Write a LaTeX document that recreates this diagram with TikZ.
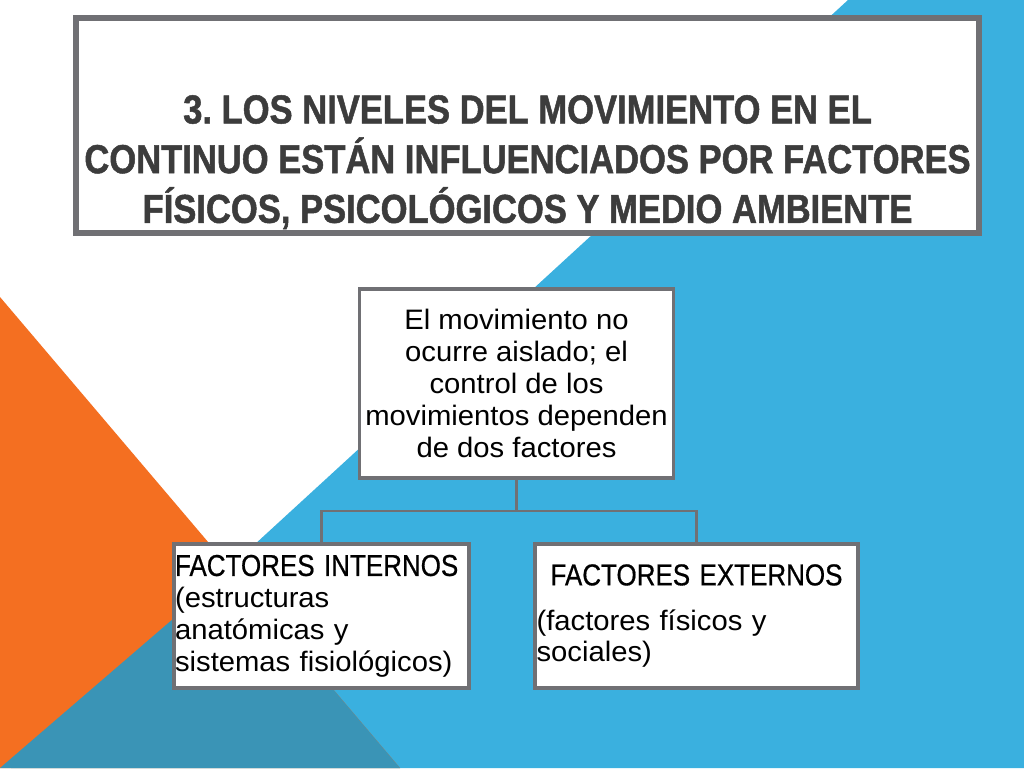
\documentclass[tikz,border=0pt]{standalone}
\usepackage{fontspec}
\setmainfont{Liberation Sans}[FakeStretch=1.04]
\newfontfamily\titlefont{Liberation Sans}[FakeStretch=0.855, FakeBold=1.2]
\newfontfamily\headfont{Liberation Sans}[FakeStretch=0.86, FakeBold=0.6]
\usepackage{xcolor}
\usepackage{tikz}
\usetikzlibrary{calc,shadows}
\definecolor{skyblue}{RGB}{58,176,223}
\definecolor{deepteal}{RGB}{58,148,182}
\definecolor{tangerine}{RGB}{244,111,33}
\definecolor{framegrey}{RGB}{112,112,116}
\definecolor{inkgrey}{RGB}{60,60,60}
\frenchspacing

\begin{document}
\begin{tikzpicture}[x = 0.02cm, y = -0.02cm,
  box/.style = {draw = framegrey, line width = 2pt, fill = white,
    drop shadow = {opacity = 0.3, shadow xshift = 0.8pt, shadow yshift = -0.8pt}},
  link/.style = {draw = framegrey, line width = 1.6pt}]
\useasboundingbox (0,0) rectangle (1024,768);
\fill[white] (0,0) rectangle (1024,768);
\fill[skyblue] (848,0) -- (1024,0) -- (1024,768) -- (11,768) -- cycle;
\fill[tangerine] (0,297) -- (400,768) -- (0,768) -- cycle;
\fill[deepteal] (0,768) -- (231,569) -- (400,768) -- cycle;
\node[box, line width = 3.4pt, inner xsep = 0pt, inner ysep = 0.08cm, text = inkgrey,
  font = \titlefont\bfseries\fontsize{23}{28.3}\selectfont] (title) at (527.5,125.5)
  {\parbox[c][4.02cm][b]{18.06cm}{\centering 3. LOS NIVELES DEL MOVIMIENTO EN EL\\
  CONTINUO ESTÁN INFLUENCIADOS POR FACTORES\\ FÍSICOS, PSICOLÓGICOS Y MEDIO AMBIENTE}};
\node[box, minimum width = 6.26cm, minimum height = 3.78cm, align = center,
  font = \fontsize{16}{18.1}\selectfont] (cause) at (516.5,383.5)
  {El movimiento no\\ ocurre aislado; el\\ control de los\\ movimientos dependen\\ de dos factores};
\node[box, minimum height = 2.88cm, text width = 5.86cm, inner xsep = 0.02cm, align = left,
  font = \fontsize{16}{18.1}\selectfont] (internos) at (321.5,616)
  {{\headfont\fontsize{17.2}{18.1}\selectfont FACTORES INTERNOS}\\ (estructuras\\ anatómicas y\\ sistemas fisiológicos)};
\node[box, minimum height = 2.88cm, text width = 6.40cm, inner xsep = 0.03cm, align = left,
  font = \fontsize{16}{18.1}\selectfont] (externos) at (696.5,616)
  {\makebox[6.40cm]{\headfont\fontsize{17.2}{18.1}\selectfont FACTORES EXTERNOS}\\[7.4pt] (factores físicos y\\ sociales)};
\coordinate (fork) at ($(cause.south)!0.5!(cause.south |- internos.north)$);
\draw[link] (cause.south) -- (fork);
\draw[link] (fork) -| (internos.north);
\draw[link] (fork) -| (externos.north);
\end{tikzpicture}
\end{document}
